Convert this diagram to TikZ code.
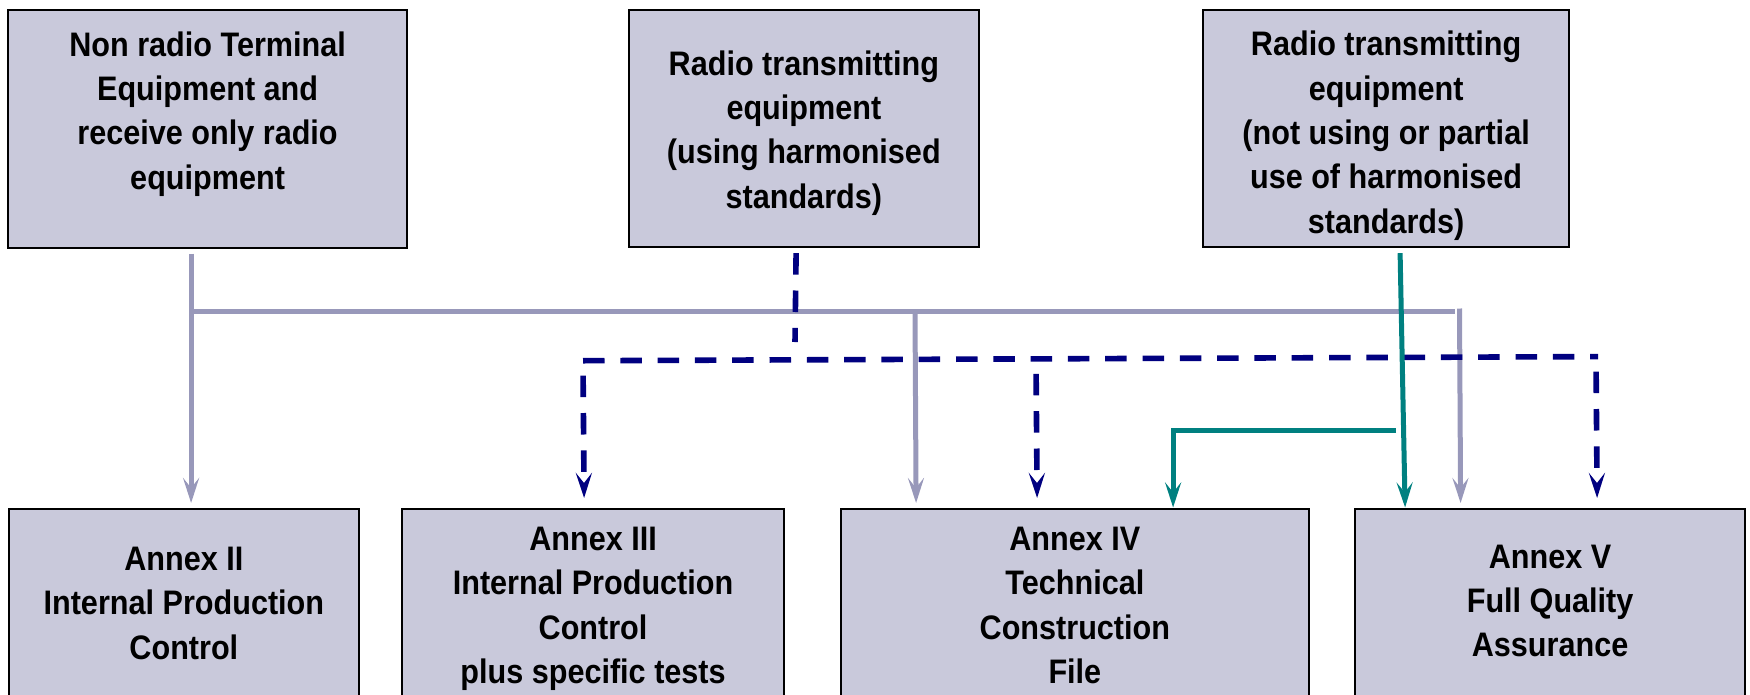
\documentclass[tikz,border=0pt]{standalone}
\usepackage{fontspec}
\newfontfamily\boxfont{Liberation Sans}[FakeStretch=0.9]
\usetikzlibrary{arrows.meta,positioning,calc}
\definecolor{boxfill}{RGB}{201,201,219}
\definecolor{gline}{RGB}{152,152,186}
\definecolor{navyline}{RGB}{0,0,128}
\definecolor{tealline}{RGB}{0,128,128}
\begin{document}
\begin{tikzpicture}[x=1pt,y=-1pt,
  boxstyle/.style={draw=black,fill=boxfill,line width=2.2pt,inner sep=0pt,anchor=north west},
  lbl/.style={font=\boxfont\fontsize{34}{44.3}\selectfont\bfseries,align=center,inner sep=0pt,anchor=north},
  tip/.style={-{Stealth[length=25pt,width=16pt,inset=10pt]}},
  grayconn/.style={draw=gline,line width=5pt},
  navyconn/.style={draw=navyline,line width=5.6pt,dash pattern=on 21.5pt off 15.8pt},
  navydown/.style={navyconn,dash phase=22.3pt},
  tealconn/.style={draw=tealline,line width=5pt},
]
\useasboundingbox (0,0) rectangle (1750,694);
\clip (0,0) rectangle (1750,694);

% boxes
\node[boxstyle,minimum width=399pt,minimum height=237.5pt] (nr) at (7,9) {};
\node[boxstyle,minimum width=350.5pt,minimum height=236.5pt] (rh) at (627.5,9) {};
\node[boxstyle,minimum width=366pt,minimum height=236.5pt] (rn) at (1202,9) {};
\node[boxstyle,minimum width=349.5pt,minimum height=220pt] (a2) at (8,507.5) {};
\node[boxstyle,minimum width=382.5pt,minimum height=220pt] (a3) at (400.7,507.5) {};
\node[boxstyle,minimum width=468.5pt,minimum height=220pt] (a4) at (839.5,507.5) {};
\node[boxstyle,minimum width=390pt,minimum height=220pt] (a5) at (1354,507.5) {};

% labels
\node[lbl,below=22.5pt of nr.north] (nrt) {Non radio Terminal\\Equipment and\\receive only radio\\equipment};
\node[lbl,below=41.5pt of rh.north] (rht) {Radio transmitting\\equipment\\(using harmonised\\standards)};
\node[lbl,below=22pt of rn.north] (rnt) {Radio transmitting\\equipment\\(not using or partial\\use of harmonised\\standards)};
\node[lbl,below=39.5pt of a2.north] (a2t) {Annex II\\Internal Production\\Control};
\node[lbl,below=19.5pt of a3.north] (a3t) {Annex III\\Internal Production\\Control\\plus specific tests};
\node[lbl,below=19.5pt of a4.north] (a4t) {Annex IV\\Technical\\Construction\\File};
\node[lbl,below=37pt of a5.north] (a5t) {Annex V\\Full Quality\\Assurance};

% junction coordinates
\coordinate (gbus) at (190,311);
\coordinate (gend) at (1455,311);
\coordinate (g4) at (915,311);
\coordinate (g5) at (1459.5,308.5);
\coordinate (nv) at (795,342);
\coordinate (nl) at (583,360.7);
\coordinate (nrgt) at (1598,356.6);
\coordinate (n4) at (1036,358.9);
\coordinate (n5) at (1596,356.7);
\coordinate (tb) at (1396,430);

% gray connectors
\draw[grayconn,tip] ([xshift=-16.5pt,yshift=-5pt]nr.south) -- ([xshift=7.25pt,yshift=4.5pt]a2.north);
\draw[grayconn] (gbus) -- (gend);
\draw[grayconn,tip] (g4) -- ([xshift=-158.75pt,yshift=4.5pt]a4.north);
\draw[grayconn,tip] (g5) -- ([xshift=-89.5pt,yshift=4.5pt]a5.north);

% navy dashed connectors
\draw[navyconn] ([xshift=-7.75pt,yshift=-5.5pt]rh.south) -- (nv);
\draw[navyconn] (nl) -- (nrgt);
\draw[navydown,tip] (nl) -- ([xshift=-8.95pt,yshift=9.5pt]a3.north);
\draw[navydown,tip] (n4) -- ([xshift=-37.75pt,yshift=9.5pt]a4.north);
\draw[navydown,tip] (n5) -- ([xshift=47pt,yshift=9.5pt]a5.north);

% teal connectors
\draw[tealconn,tip] ([xshift=14pt,yshift=-5.5pt]rn.south) -- ([xshift=-145pt]a5.north);
\draw[tealconn,tip] (tb) -| ([xshift=98.25pt]a4.north);
\end{tikzpicture}
\end{document}
